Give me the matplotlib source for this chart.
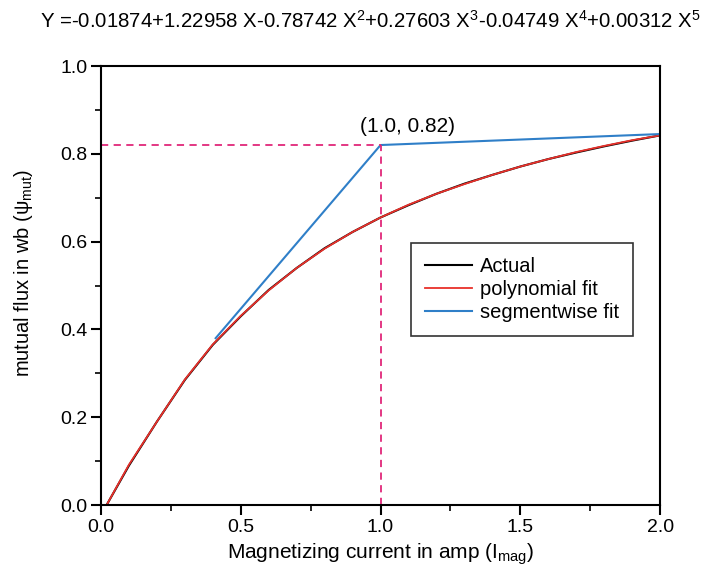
import matplotlib
matplotlib.use("Agg")
import matplotlib.pyplot as plt
from matplotlib.ticker import MultipleLocator

plt.rcParams['font.family'] = ['Liberation Sans', 'DejaVu Sans']
plt.rcParams['mathtext.fontset'] = 'custom'
plt.rcParams['mathtext.rm'] = 'Liberation Sans'
plt.rcParams['mathtext.it'] = 'Liberation Sans'

# Data
current = [0.02, 0.1, 0.2, 0.3, 0.4, 0.5, 0.6, 0.7, 0.8, 0.9, 1.0,
           1.1, 1.2, 1.3, 1.4, 1.5, 1.6, 1.7, 1.8, 1.9, 2.0]
actual = [0.0, 0.09, 0.19, 0.285, 0.365, 0.43, 0.49, 0.54, 0.585, 0.622, 0.655,
          0.683, 0.709, 0.732, 0.752, 0.771, 0.788, 0.803, 0.817, 0.830, 0.842]
poly_fit = [0.0, 0.092, 0.19, 0.286, 0.366, 0.431, 0.489, 0.54, 0.584, 0.622, 0.655,
            0.684, 0.709, 0.731, 0.752, 0.771, 0.788, 0.804, 0.818, 0.831, 0.842]
seg_x = [0.41, 1.0, 2.0]
seg_y = [0.38, 0.82, 0.845]
knee_x, knee_y = 1.0, 0.82
xticks = [0.0, 0.5, 1.0, 1.5, 2.0]
yticks = [0.0, 0.2, 0.4, 0.6, 0.8, 1.0]

fig = plt.figure(figsize=(7.14, 5.75), dpi=100)
ax = fig.add_axes([0.1415, 0.1217, 0.783, 0.7635])

ax.plot(current, actual, color='black', lw=1.5, label='Actual')
ax.plot(current, poly_fit, color='#e8302a', lw=1.3, label='polynomial fit')
ax.plot(seg_x, seg_y, color='#2f7fc8', lw=1.5, label='segmentwise fit')

ax.plot([0, knee_x], [knee_y, knee_y], color='#e0287a', lw=1.3, ls=(0, (4, 3)))
ax.plot([knee_x, knee_x], [0, knee_y], color='#e0287a', lw=1.3, ls=(0, (4, 3)))
ax.text(1.095, 0.862, '(1.0, 0.82)', ha='center', va='center', fontsize=15)

ax.set_xlim(0, 2.0)
ax.set_ylim(0, 1.0)
ax.xaxis.set_minor_locator(MultipleLocator(0.25))
ax.yaxis.set_minor_locator(MultipleLocator(0.1))
ax.set_xticks(xticks)
ax.set_xticklabels([f'{v:.1f}' for v in xticks])
ax.set_yticks(yticks)
ax.set_yticklabels([f'{v:.1f}' for v in yticks])
ax.tick_params(which='major', direction='out', length=7, width=1.5, labelsize=14, pad=3)
ax.tick_params(which='minor', direction='out', length=4, width=1.2)
for s in ax.spines.values():
    s.set_linewidth(1.5)

ax.set_xlabel('Magnetizing current in amp (I$_{mag}$)', fontsize=15, labelpad=4)
ax.set_ylabel('mutual flux in wb ($\\psi_{mut}$)', fontsize=14.5)
ax.yaxis.set_label_coords(-0.118, 0.528)

fig.text(0.519, 0.963,
         'Y =-0.01874+1.22958 X-0.78742 X$^{2}$+0.27603 X$^{3}$-0.04749 X$^{4}$+0.00312 X$^{5}$',
         ha='center', va='center', fontsize=14.7)

leg = ax.legend(loc='upper left', bbox_to_anchor=(0.555, 0.597), fontsize=14.5,
                frameon=True, fancybox=False, edgecolor='black', handlelength=2.3,
                handletextpad=0.4, borderpad=0.7, labelspacing=0.2, borderaxespad=0)
leg.get_frame().set_linewidth(1.2)

fig.savefig('out.png', dpi=100)
